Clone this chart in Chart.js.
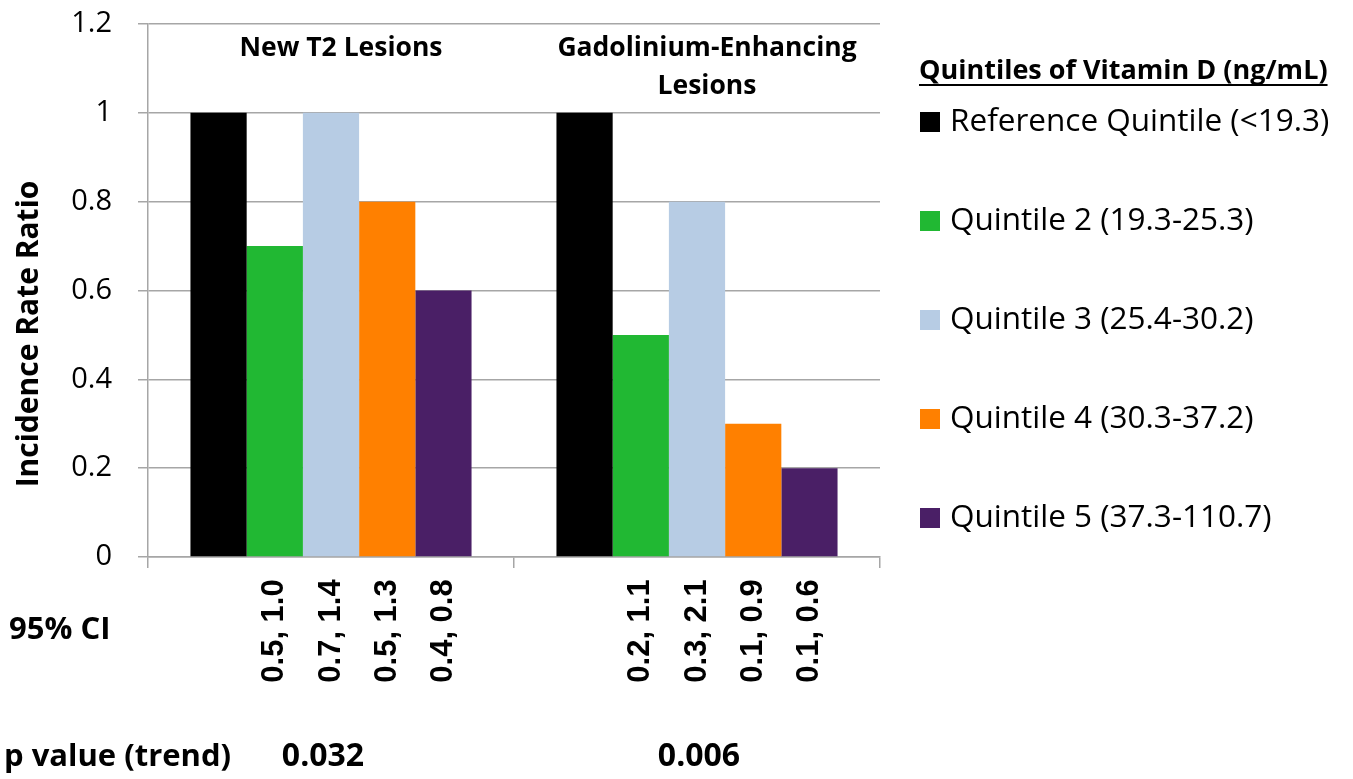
<!DOCTYPE html>
<html>
<head>
<meta charset="utf-8">
<script src="https://cdn.jsdelivr.net/npm/chart.js"></script>
<style>
  html, body { margin: 0; padding: 0; background: #fff; }
  #wrap { width: 1353px; height: 779px; position: relative; }
</style>
</head>
<body>
<div id="wrap"><canvas id="chart"></canvas></div>
<script>
// data
const categories = [["New T2 Lesions"], ["Gadolinium-Enhancing", "Lesions"]];
const quintiles = [
  "Reference Quintile (<19.3)",
  "Quintile 2 (19.3-25.3)",
  "Quintile 3 (25.4-30.2)",
  "Quintile 4 (30.3-37.2)",
  "Quintile 5 (37.3-110.7)"
];
const refValues = [1.0, 1.0];
const q2Values = [0.7, 0.5];
const q3Values = [1.0, 0.8];
const q4Values = [0.8, 0.3];
const q5Values = [0.6, 0.2];
const ciLabels = [
  [null, null],
  ["0.5, 1.0", "0.2, 1.1"],
  ["0.7, 1.4", "0.3, 2.1"],
  ["0.5, 1.3", "0.1, 0.9"],
  ["0.4, 0.8", "0.1, 0.6"]
];
const pValues = ["0.032", "0.006"];
const colors = ["#000000", "#21b833", "#b7cce4", "#ff8000", "#4a1f66"];

const FONT = "'Open Sans', sans-serif";
const gridColor = "#a6a6a6";

const extraText = {
  id: "extraText",
  afterDraw(chart) {
    const ctx = chart.ctx;
    const x = chart.scales.x;
    ctx.save();
    ctx.fillStyle = "#000";

    // y axis title
    ctx.save();
    ctx.translate(29, 334);
    ctx.rotate(-Math.PI / 2);
    ctx.font = "bold 30px " + FONT;
    ctx.textAlign = "center";
    ctx.textBaseline = "middle";
    ctx.fillText("Incidence Rate Ratio", 0, 0);
    ctx.restore();

    // category titles inside plot
    ctx.font = "bold 26.5px " + FONT;
    ctx.textAlign = "center";
    ctx.textBaseline = "middle";
    categories.forEach((lines, i) => {
      const cx = x.getPixelForValue(i) + 10;
      lines.forEach((t, j) => ctx.fillText(t, cx, 48 + j * 38));
    });

    // CI labels, rotated
    ctx.font = "bold 31px 'Liberation Sans', Arial, sans-serif";
    chart.data.datasets.forEach((ds, d) => {
      const meta = chart.getDatasetMeta(d);
      meta.data.forEach((bar, i) => {
        const t = ciLabels[d][i];
        if (!t) return;
        ctx.save();
        ctx.translate(bar.x, 631);
        ctx.rotate(-Math.PI / 2);
        ctx.textAlign = "center";
        ctx.textBaseline = "middle";
        ctx.fillText(t, 0, 0);
        ctx.restore();
      });
    });

    // row labels and p values
    ctx.font = "bold 31px " + FONT;
    ctx.textAlign = "left";
    ctx.fillText("95% CI", 9, 630);
    ctx.fillText("p value (trend)", 4, 757);
    ctx.textAlign = "center";
    ctx.font = "bold 32px " + FONT;
    pValues.forEach((p, i) => ctx.fillText(p, x.getPixelForValue(i) - 8 + i * 10, 757));

    // legend
    ctx.textAlign = "left";
    ctx.font = "bold 27px " + FONT;
    const title = "Quintiles of Vitamin D (ng/mL)";
    ctx.fillText(title, 919, 71);
    const w = ctx.measureText(title).width;
    ctx.fillRect(919, 84, w, 2);
    ctx.font = "31.5px " + FONT;
    chart.data.datasets.forEach((ds, d) => {
      const cy = 122 + d * 99;
      ctx.fillStyle = ds.backgroundColor;
      ctx.fillRect(920, cy - 10, 20, 20);
      ctx.fillStyle = "#000";
      ctx.fillText(ds.label, 950, cy);
    });
    ctx.restore();
  }
};

const seriesValues = [refValues, q2Values, q3Values, q4Values, q5Values];

new Chart(document.getElementById("chart"), {
  type: "bar",
  data: {
    labels: categories.map(c => c.join(" ")),
    datasets: seriesValues.map((vals, i) => ({
      label: quintiles[i],
      data: vals,
      backgroundColor: colors[i],
      borderWidth: 0,
      categoryPercentage: 0.768,
      barPercentage: 1.0
    }))
  },
  options: {
    responsive: true,
    maintainAspectRatio: false,
    animation: false,
    layout: { padding: { top: 24, right: 473, left: 0, bottom: 0 } },
    plugins: {
      legend: { display: false },
      tooltip: { enabled: false }
    },
    scales: {
      x: {
        ticks: { display: false },
        grid: { drawOnChartArea: false, drawTicks: true, tickLength: 11, color: gridColor, lineWidth: 1.5 },
        border: { display: true, color: gridColor, width: 1.5 },
        afterFit: s => { s.height = 222; s.paddingLeft = 0; s.paddingRight = 0; }
      },
      y: {
        min: 0,
        max: 1.2,
        ticks: {
          stepSize: 0.2,
          padding: 26,
          color: "#000",
          font: { family: FONT, size: 29 },
          callback: v => String(Math.round(v * 10) / 10)
        },
        grid: { color: gridColor, lineWidth: 1.5, tickLength: 10 },
        border: { display: true, color: gridColor, width: 1.5 },
        afterFit: s => { s.width = 148; s.paddingTop = 0; s.paddingBottom = 0; }
      }
    }
  },
  plugins: [extraText]
});
</script>
</body>
</html>
